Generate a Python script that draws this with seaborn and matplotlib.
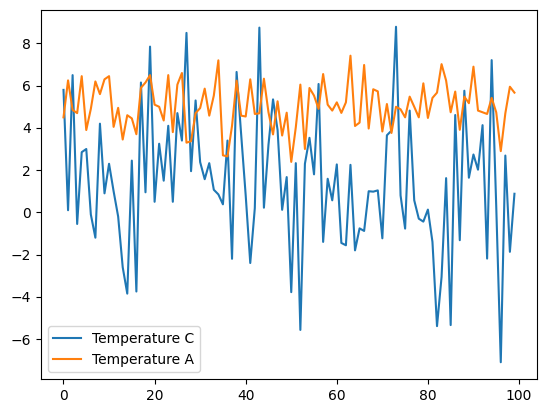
import numpy as np
import pandas as pd
import matplotlib
matplotlib.use("Agg")
import matplotlib.pyplot as plt
import seaborn as sns

# valores (100 pontos por serie)
temp_c = [5.8, 0.1, 6.5, -0.55, 2.85, 3.0, -0.1, -1.2, 4.2, 0.9,
          2.3, 1.0, -0.2, -2.6, -3.85, 2.45, -3.75, 6.15, 0.95, 7.85,
          0.5, 3.25, 1.5, 4.1, 0.5, 4.7, 3.4, 8.5, 1.95, 5.3,
          2.38, 1.57, 2.33, 1.07, 0.85, 0.38, 3.4, -2.2, 6.65, 3.7,
          0.8, -2.4, 0.2, 8.75, 0.22, 3.2, 5.35, 3.9, 0.12, 1.67,
          -3.78, 2.33, -5.57, 2.3, 3.53, 1.8, 6.08, -1.4, 1.59, 0.57,
          2.27, -1.45, -1.56, 2.25, -1.8, -0.76, -0.88, 1.0, 0.98, 1.04,
          -1.23, 3.65, 3.87, 8.79, 0.8, -0.77, 4.82, 0.57, -0.3, -0.44,
          0.13, -1.4, -5.39, -3.06, 1.62, -5.34, 4.61, -1.32, 5.76, 1.64,
          2.74, 2.02, 4.13, -2.19, 7.21, 0.3, -7.1, 2.69, -1.87, 0.88]

temp_a = [4.5, 6.25, 4.85, 4.7, 6.45, 3.9, 4.9, 6.2, 5.6, 6.3,
          6.45, 4.05, 4.95, 3.45, 4.6, 4.45, 3.7, 5.9, 6.15, 6.5,
          5.1, 5.0, 4.35, 6.5, 3.8, 6.05, 6.6, 3.3, 3.37, 4.7,
          4.94, 5.86, 4.58, 5.53, 7.2, 2.7, 2.65, 4.1, 6.24, 4.58,
          4.54, 6.3, 4.66, 4.69, 6.33, 4.74, 3.69, 5.26, 3.64, 4.72,
          2.39, 4.03, 6.05, 3.0, 5.89, 5.53, 4.9, 6.55, 5.1, 4.82,
          5.21, 4.71, 5.21, 7.42, 4.09, 4.25, 6.98, 3.97, 5.83, 5.73,
          3.83, 5.13, 3.76, 5.0, 4.88, 4.5, 5.48, 5.0, 4.5, 6.11,
          4.47, 5.42, 5.67, 7.02, 6.24, 4.74, 5.72, 3.91, 5.48, 5.17,
          6.9, 4.82, 4.74, 4.66, 5.42, 4.74, 2.9, 4.69, 5.95, 5.67]

dias = np.arange(len(temp_c))
dados = pd.DataFrame({"dia": dias, "Temperature C": temp_c, "Temperature A": temp_a})

fig = plt.figure(figsize=(5.46, 4.13), dpi=100)
ax = fig.add_axes([0.075, 0.0823, 0.9085, 0.8935])
sns.lineplot(x="dia", y="Temperature C", data=dados, color="#1f77b4", label="Temperature C", ax=ax)
sns.lineplot(x="dia", y="Temperature A", data=dados, color="#ff7f0e", label="Temperature A", ax=ax)
ax.set_xlabel("")
ax.set_ylabel("")
ax.legend(loc="lower left")
fig.savefig("out.png", dpi=100)
